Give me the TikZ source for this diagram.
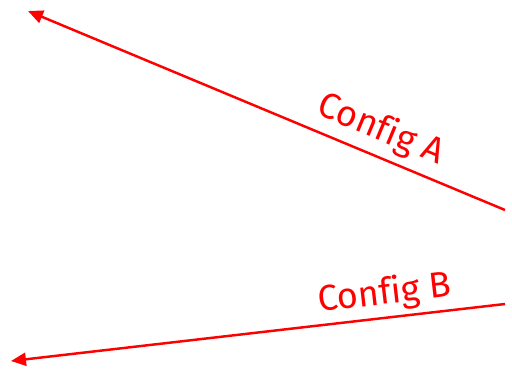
\documentclass[tikz,border=0pt]{standalone}
\usepackage{fontspec}
\setmainfont{Fira Sans}[Ligatures=NoCommon]
\usepackage{tikz}
\usetikzlibrary{arrows.meta}

\begin{document}
\begin{tikzpicture}[x=0.02cm, y=-0.02cm]

        % Fix the frame (512 x 376)
        \useasboundingbox (0, 0) rectangle (512, 376);

        \tikzset{config/.style={draw=red, line width=1.4pt, -{Triangle[length=0.3cm, width=0.26cm]}},
                 configlabel/.style={text=red, font=\fontsize{20.5}{24}\selectfont, inner sep=0pt}}

        % 1. End points of the two lines
        \coordinate (Astart) at (505, 210);
        \coordinate (Aend) at (28, 11);
        \coordinate (Bstart) at (505, 304);
        \coordinate (Bend) at (11, 361);

        % 2. Draw the arrows
        \draw[config] (Astart) -- (Aend);
        \draw[config] (Bstart) -- (Bend);

        % 3. Labels
        \node[configlabel, rotate=-22.6] (labelA) at (381, 130) {Config A};
        \node[configlabel, rotate=6.6] (labelB) at (385, 294) {Config B};

    \end{tikzpicture}
\end{document}
